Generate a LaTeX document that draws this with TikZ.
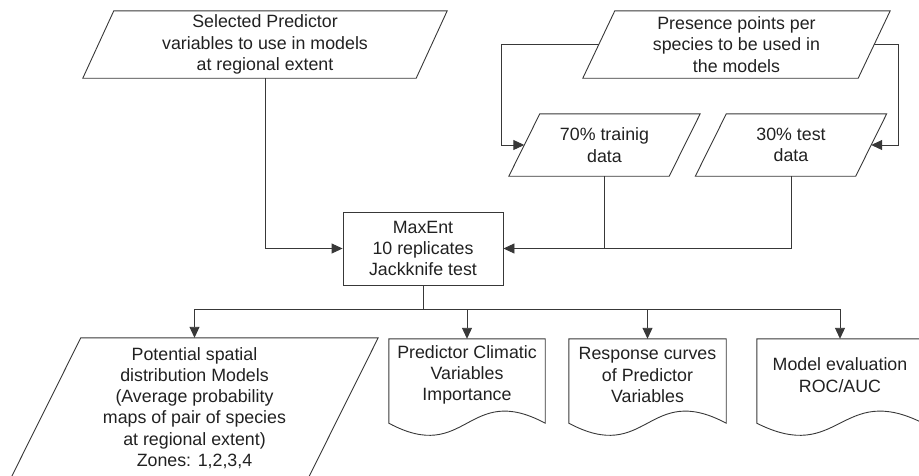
\documentclass[tikz,border=0pt]{standalone}
\usepackage{fontspec}
\setmainfont{Liberation Sans}
\usetikzlibrary{arrows.meta}

\definecolor{linecol}{gray}{0.22}
\definecolor{txtcol}{gray}{0.13}

\tikzset{
  base/.style={draw=none, inner sep=0pt, align=center, text=txtcol,
               font=\fontsize{17.8}{21.3}\selectfont},
  rectbox/.style={base, draw=linecol, line width=0.9pt},
  outline/.style={draw=linecol, line width=0.9pt, line join=miter},
  line/.style={draw=linecol, line width=0.9pt},
  conn/.style={line, -{Triangle[length=11pt,width=10pt]}},
}

% parallelogram drawn around a rectangular node, top edge shifted right by #2
\newcommand\paraoutline[2]{%
  \draw[outline] ([xshift=#2]#1.north west) -- ([xshift=#2]#1.north east)
    -- ([xshift=-#2]#1.south east) -- ([xshift=-#2]#1.south west) -- cycle;}

% document shape: straight top and sides, wavy bottom
\newcommand\docoutline[1]{%
  \draw[outline] (#1.north west) -- (#1.north east)
    -- ([yshift=-12pt]#1.south east)
    .. controls ([yshift=30pt]#1.south) and ([yshift=-54pt]#1.south) ..
       ([yshift=-12pt]#1.south west) -- cycle;}

\begin{document}
\begin{tikzpicture}[x=1pt,y=-1pt]
  \useasboundingbox (0,0) rectangle (919,475);
  \clip (0,0) rectangle (919,475);

  % inputs
  \node[base, minimum width=333pt, minimum height=67pt] (sel) at (265,44.5)
    {Selected Predictor\\variables to use in models\\at regional extent};
  \node[base, minimum width=275pt, minimum height=67pt] (pres) at (736.5,44.5)
    {Presence points per\\species to be used in\\the models};
  \node[base, minimum width=160pt, minimum height=62pt] (train) at (604.5,145)
    {70\% trainig\\data};
  \node[base, minimum width=160pt, minimum height=62pt] (test) at (791,145)
    {30\% test\\data};

  % model
  \node[rectbox, minimum width=160pt, minimum height=73pt] (maxent) at (423,248.5)
    {MaxEnt\\10 replicates\\Jackknife test};

  % outputs
  \node[base, minimum width=297pt, minimum height=140pt] (pot) at (194.5,408)
    {Potential spatial\\distribution Models\\(Average probability\\maps of pair of species\\at regional extent)\\Zones: 1,2,3,4};
  \node[base, minimum width=156pt, minimum height=72pt] (d1) at (467,375)
    {Predictor Climatic\\Variables\\Importance};
  \node[base, minimum width=157pt, minimum height=72pt] (d2) at (647.5,375)
    {Response curves\\of Predictor\\Variables};
  \node[base, minimum width=166pt, minimum height=72pt] (d3) at (840,375)
    {Model evaluation\\ROC/AUC};

  \paraoutline{sel}{15.5pt}
  \paraoutline{pres}{16pt}
  \paraoutline{train}{15.5pt}
  \paraoutline{test}{15.5pt}
  \paraoutline{pot}{35pt}
  \docoutline{d1}
  \docoutline{d2}
  \docoutline{d3}

  % routing points
  \coordinate (lbend) at (501,0);
  \coordinate (rbend) at (898,0);
  \coordinate (bus) at (0,309);

  % connectors
  \draw[conn] (sel.south) |- (maxent.west);
  \draw[conn] (pres.west) -| (lbend |- train.west) -- (train.west);
  \draw[conn] (pres.east) -| (rbend |- test.east) -- (test.east);
  \draw[line] (train.south) -- (train.south |- maxent.east);
  \draw[conn] (test.south) |- (maxent.east);

  \draw[line] (maxent.south) -- (maxent.south |- bus);
  \draw[line] (pot.north |- bus) -- (d3.north |- bus);
  \draw[conn] (pot.north |- bus) -- (pot.north);
  \draw[conn] (d1.north |- bus) -- (d1.north);
  \draw[conn] (d2.north |- bus) -- (d2.north);
  \draw[conn] (d3.north |- bus) -- (d3.north);
\end{tikzpicture}
\end{document}
